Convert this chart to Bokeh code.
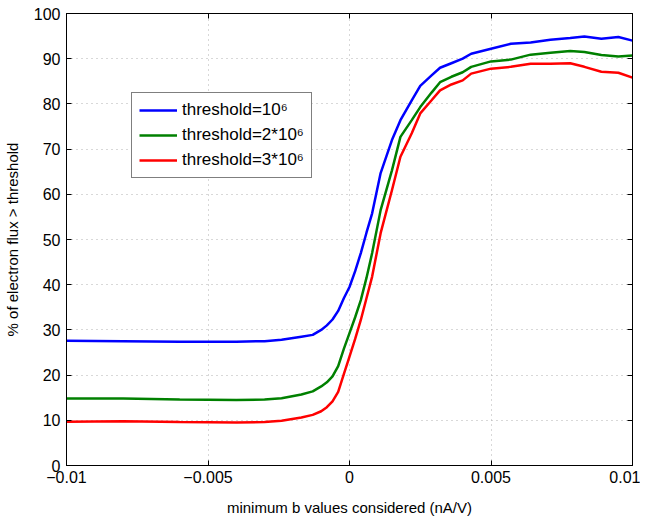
from bokeh.plotting import figure
from bokeh.models import (LinearAxis, FixedTicker, CustomJSTickFormatter, Legend, LegendItem, Range1d)
from bokeh.embed import file_html
from bokeh.resources import INLINE

x = [-0.010, -0.008, -0.006, -0.004, -0.003, -0.0024, -0.0017, -0.0013, -0.0010, -0.0008,
     -0.0006, -0.0004, -0.0002, 0.0000, 0.0002, 0.0004, 0.0006, 0.0008, 0.0011, 0.0015,
     0.0018, 0.0022, 0.0025, 0.0029, 0.0032, 0.0036, 0.0040, 0.0043, 0.0050, 0.0057,
     0.0064, 0.0071, 0.0078, 0.0083, 0.0089, 0.0095, 0.0100]

blue = [27.6, 27.5, 27.4, 27.4, 27.5, 27.8, 28.5, 28.9, 30.0, 31.0,
        32.3, 34.2, 37.0, 39.5, 43.0, 47.0, 51.5, 55.8, 64.7, 72.0,
        76.4, 80.8, 84.0, 86.3, 88.0, 89.0, 90.0, 91.1, 92.2, 93.3,
        93.6, 94.2, 94.6, 94.9, 94.4, 94.8, 94.0]

green = [14.8, 14.8, 14.6, 14.5, 14.6, 14.9, 15.7, 16.4, 17.5, 18.4,
         19.7, 22.0, 25.8, 29.3, 32.8, 36.6, 41.5, 47.0, 56.5, 65.3,
         72.7, 76.4, 79.3, 82.5, 84.8, 86.0, 87.0, 88.2, 89.4, 89.8,
         90.9, 91.3, 91.7, 91.5, 90.8, 90.5, 90.7]

red = [9.7, 9.8, 9.6, 9.5, 9.6, 9.9, 10.6, 11.2, 12.0, 12.9,
       14.2, 16.3, 20.2, 24.1, 28.0, 32.2, 37.0, 41.8, 51.4, 60.9,
       68.3, 73.5, 77.9, 80.8, 83.0, 84.3, 85.2, 86.7, 87.8, 88.2,
       88.9, 88.9, 89.0, 88.2, 87.1, 86.9, 85.8]

labels = ["threshold=10\u2076", "threshold=2*10\u2076", "threshold=3*10\u2076"]
colors = ["#0000ff", "#008000", "#ff0000"]

x_ticks = [-0.01, -0.005, 0, 0.005, 0.01]
y_ticks = [0, 10, 20, 30, 40, 50, 60, 70, 80, 90, 100]

FONT = "Liberation Sans"

p = figure(width=640, height=518, output_backend="svg", toolbar_location=None,
           x_range=Range1d(-0.01, 0.01), y_range=Range1d(0, 100),
           min_border_left=65, min_border_right=8, min_border_top=13, min_border_bottom=10)

fmt = CustomJSTickFormatter(code="""
if (Math.abs(tick) < 1e-12) return '0';
var s = String(parseFloat(tick.toPrecision(6)));
return s.replace('-', '\u2212');
""")

p.xaxis.ticker = FixedTicker(ticks=x_ticks)
p.yaxis.ticker = FixedTicker(ticks=y_ticks)
p.xaxis.formatter = fmt
p.yaxis.formatter = fmt

for ax in [p.xaxis[0], p.yaxis[0]]:
    ax.major_tick_in = 5
    ax.major_tick_out = 0
    ax.minor_tick_in = 0
    ax.minor_tick_out = 0
    ax.axis_line_color = "black"
    ax.major_tick_line_color = "black"
    ax.major_label_text_font = FONT
    ax.major_label_text_font_size = "16px"
    ax.major_label_text_color = "black"
    ax.axis_label_text_font = FONT
    ax.axis_label_text_font_size = "15px"
    ax.axis_label_text_font_style = "normal"
    ax.axis_label_text_color = "black"

p.xaxis.axis_label = "minimum b values considered (nA/V)"
p.yaxis.axis_label = "% of electron flux > threshold"
p.xaxis.major_label_standoff = 5
p.yaxis.major_label_standoff = 6
p.xaxis.axis_label_standoff = 13
p.yaxis.axis_label_standoff = 10

blank = CustomJSTickFormatter(code="return '';")
for loc, tk in [("right", y_ticks), ("above", x_ticks)]:
    ax = LinearAxis(ticker=FixedTicker(ticks=tk), formatter=blank,
                    major_label_standoff=0,
                    major_tick_in=5, major_tick_out=0, minor_tick_in=0, minor_tick_out=0,
                    axis_line_color="black", major_tick_line_color="black")
    p.add_layout(ax, loc)

p.grid.grid_line_color = "#b0b0b0"
p.grid.grid_line_dash = "1 4"
p.grid.grid_line_width = 1
p.outline_line_color = "black"

items = []
for ys, c, lab in zip([blue, green, red], colors, labels):
    r = p.line(x, ys, line_color=c, line_width=2.5)
    items.append(LegendItem(label=lab, renderers=[r]))

legend = Legend(items=items, location=(65, 287), label_text_font=FONT,
                label_text_font_size="17px", label_text_color="black",
                border_line_color="black", border_line_width=1,
                background_fill_alpha=1.0, glyph_width=38, glyph_height=20,
                label_height=20, spacing=5, padding=7, margin=0,
                label_standoff=5)
p.add_layout(legend, "center")

open("out.html", "w").write(file_html(p, INLINE))
